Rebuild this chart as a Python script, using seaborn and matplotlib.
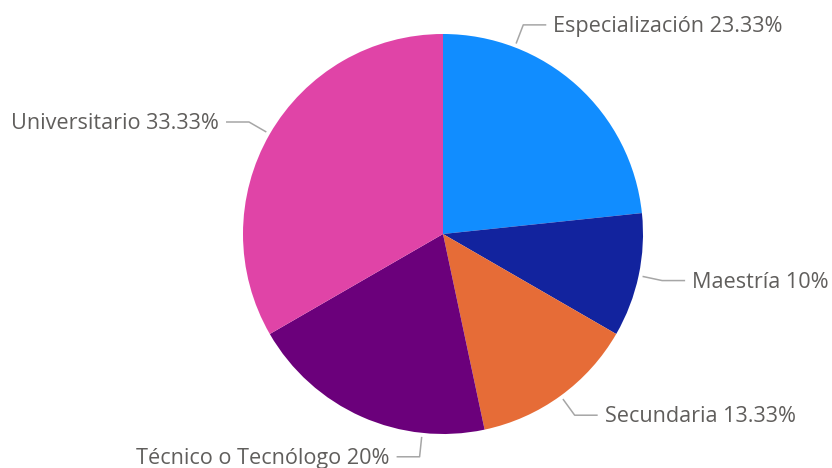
import numpy as np
import matplotlib
matplotlib.use("Agg")
import matplotlib.pyplot as plt
import seaborn as sns

# Education level shares (percent), clockwise from 12 o'clock
categories = ["Especialización", "Maestría", "Secundaria", "Técnico o Tecnólogo", "Universitario"]
shares = [23.33, 10, 13.33, 20, 33.33]
share_labels = ["23.33%", "10%", "13.33%", "20%", "33.33%"]
colors = ["#118DFF", "#12239E", "#E66C37", "#6B007B", "#E044A7"]
# small angular nudges (degrees) so crowded labels stay clear of each other
label_nudge = [-21, 0, 0, -18, 0]

sns.set_theme(style="white")
plt.rcParams["font.family"] = ["Open Sans", "DejaVu Sans"]

W, H = 832, 468
fig = plt.figure(figsize=(W / 100, H / 100), dpi=100)
ax = fig.add_axes([0, 0, 1, 1])

cx, cy, R = 443, 234, 200
ax.pie(shares, colors=colors, startangle=90, counterclock=False,
       center=(cx, cy), radius=R, wedgeprops=dict(linewidth=0),
       frame=True)
ax.set_xlim(0, W)
ax.set_ylim(0, H)
ax.set_aspect("equal")
ax.axis("off")

total = sum(shares)
start = 0.0
line_col = "#A6A6A6"
text_col = "#605E5C"
for cat, val, lab, nudge in zip(categories, shares, share_labels, label_nudge):
    span = val / total * 360
    theta = np.deg2rad(start + span / 2 + nudge)
    start += span
    sx, sy = np.sin(theta), np.cos(theta)
    ax_x, ax_y = cx + 204 * sx, cy + 204 * sy
    ex, ey = cx + 224 * sx, cy + 224 * sy
    side = 1 if sx >= 0 else -1
    hx = ex + side * 23
    ax.plot([ax_x, ex, hx], [ax_y, ey, ey], color=line_col, lw=1.1,
            solid_capstyle="butt")
    ax.text(hx + side * 7, ey - 1.5, f"{cat} {lab}", color=text_col, fontsize=15.6,
            ha="left" if side > 0 else "right", va="center")

fig.savefig("out.png", dpi=100, facecolor="white")
